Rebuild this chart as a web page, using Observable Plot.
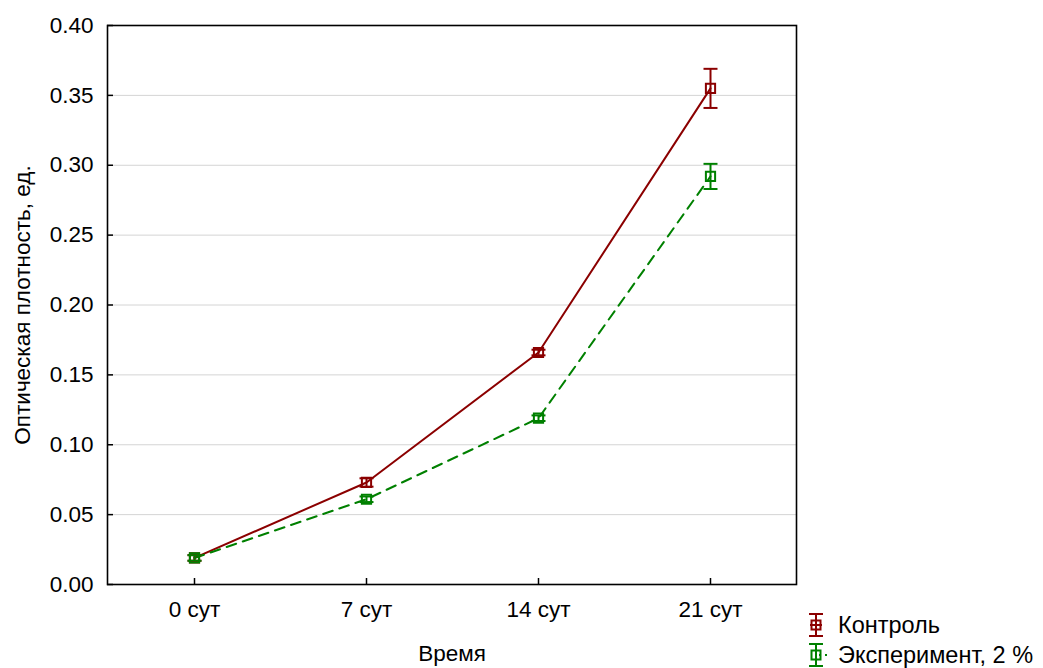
<!DOCTYPE html>
<html><head><meta charset="utf-8">
<script src="https://cdn.jsdelivr.net/npm/d3@7"></script>
<script src="https://cdn.jsdelivr.net/npm/@observablehq/plot@0.6"></script>
<style>
body{margin:0;background:#fff;font-family:"Liberation Sans",Arial,sans-serif;}
#wrap{position:relative;width:1043px;height:668px;overflow:hidden;}
#legend{position:absolute;left:806px;top:610px;font-size:23.5px;color:#000;}
#legend .row{display:flex;align-items:center;height:30px;}
#legend svg{margin-right:10px;}
</style></head><body><div id="wrap"></div>
<script>
const days = ["0 сут", "7 сут", "14 сут", "21 сут"];
const control = [0.019, 0.073, 0.166, 0.355];
const controlErr = [0.002, 0.003, 0.002, 0.014];
const experiment = [0.019, 0.061, 0.119, 0.292];
const experimentErr = [0.002, 0.002, 0.002, 0.009];
const seriesNames = ["Контроль", "Эксперимент, 2 %"];
const seriesColors = ["#8b0000", "#008000"];
const yTicks = [0, 0.05, 0.10, 0.15, 0.20, 0.25, 0.30, 0.35, 0.40];
const xLabel = "Время";
const yLabel = "Оптическая плотность, ед.";

const rows = [];
days.forEach((d, i) => {
  rows.push({day: d, v: control[i], e: controlErr[i], s: seriesNames[0]});
  rows.push({day: d, v: experiment[i], e: experimentErr[i], s: seriesNames[1]});
});
const ctrlRows = rows.filter(r => r.s === seriesNames[0]);
const expRows = rows.filter(r => r.s === seriesNames[1]);

const capSymbol = {draw(ctx, size) { const w = 7; ctx.moveTo(-w, 0); ctx.lineTo(w, 0); }};

const chart = Plot.plot({
  width: 1043,
  height: 668,
  marginLeft: 107,
  marginRight: 247,
  marginTop: 25,
  marginBottom: 84,
  style: {fontSize: "22.5px", fontFamily: "'Liberation Sans', Arial, sans-serif", color: "#000", background: "#fff"},
  x: {type: "point", domain: days, padding: 0.5},
  y: {domain: [0, 0.4]},
  color: {domain: seriesNames, range: seriesColors},
  marks: [
    Plot.gridY(yTicks.slice(1, -1), {stroke: "#d4d4d4", strokeOpacity: 1, strokeWidth: 1}),
    Plot.line(ctrlRows, {x: "day", y: "v", stroke: "s", strokeWidth: 2}),
    Plot.line(expRows, {x: "day", y: "v", stroke: "s", strokeWidth: 2, strokeDasharray: "10,7"}),
    Plot.ruleX(rows, {x: "day", y1: d => d.v - d.e, y2: d => d.v + d.e, stroke: "s", strokeWidth: 2}),
    Plot.dot(rows, {x: "day", y: d => d.v + d.e, symbol: capSymbol, r: 4, stroke: "s", fill: "none", strokeWidth: 2}),
    Plot.dot(rows, {x: "day", y: d => d.v - d.e, symbol: capSymbol, r: 4, stroke: "s", fill: "none", strokeWidth: 2}),
    Plot.dot(rows, {x: "day", y: "v", symbol: "square", r: 5.2, stroke: "s", fill: "none", strokeWidth: 2}),
    Plot.frame({stroke: "#000", strokeWidth: 1.6}),
    Plot.axisY({ticks: yTicks, tickFormat: d3.format(".2f"), tickSize: -6, tickPadding: 20, label: null, strokeWidth: 1.5}),
    Plot.axisX({tickSize: -6, tickPadding: 23, label: null, strokeWidth: 1.5}),
    Plot.text([xLabel], {text: d => d, frameAnchor: "bottom", dy: 76, fill: "#000"}),
    Plot.text([yLabel], {text: d => d, frameAnchor: "left", textAnchor: "middle", rotate: -90, dx: -85, fill: "#000"})
  ]
});
const wrap = document.getElementById("wrap");
wrap.appendChild(chart);

const legend = document.createElement("div");
legend.id = "legend";
seriesNames.forEach((name, i) => {
  const row = document.createElement("div");
  row.className = "row";
  const c = seriesColors[i];
  const dash = i === 1 ? `<line x1="13" y1="14" x2="22" y2="14" stroke="${c}" stroke-width="2" stroke-dasharray="2,4"/>` : `<line x1="4" y1="14" x2="16" y2="14" stroke="${c}" stroke-width="2"/>`;
  row.innerHTML = `<svg width="22" height="28" viewBox="0 0 22 28">
    <line x1="10" y1="3" x2="10" y2="25" stroke="${c}" stroke-width="2"/>
    <line x1="3" y1="3" x2="17" y2="3" stroke="${c}" stroke-width="2"/>
    <line x1="3" y1="25" x2="17" y2="25" stroke="${c}" stroke-width="2"/>
    <rect x="5.5" y="9.5" width="9" height="9" fill="none" stroke="${c}" stroke-width="2"/>
    ${dash}
  </svg><span>${name}</span>`;
  legend.appendChild(row);
});
wrap.appendChild(legend);
</script>
</body></html>
